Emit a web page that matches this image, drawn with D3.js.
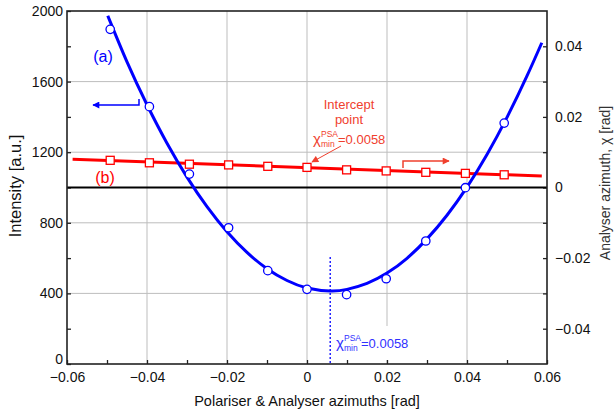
<!DOCTYPE html>
<html><head><meta charset="utf-8">
<script src="https://cdn.jsdelivr.net/npm/d3@7"></script>
<style>body{margin:0;background:#fff}svg{display:block}text{font-family:"Liberation Sans",Arial,sans-serif}</style>
</head><body>
<svg id="chart" width="614" height="414"></svg>
<script>
// ---- data ----
const angles = [-0.0492, -0.0394, -0.0294, -0.0196, -0.0098, 0.0, 0.0099, 0.0198, 0.0297, 0.0396, 0.0493];
const intensity = [1896, 1458, 1076, 772, 529, 423, 393, 483, 697, 999, 1365];
const chiValues = [0.0077, 0.0070, 0.0066, 0.0064, 0.0060, 0.0057, 0.0050, 0.0047, 0.0043, 0.0040, 0.0036];
const fitAngles = [-0.0498, -0.045, -0.04, -0.035, -0.03, -0.025, -0.02, -0.015, -0.01, -0.005, 0, 0.0058, 0.01, 0.015, 0.02, 0.025, 0.03, 0.035, 0.04, 0.045, 0.05, 0.055, 0.0587];
const fitIntensity = [1973, 1712, 1469, 1251, 1059, 891, 749, 632, 540, 473, 431, 414, 423, 457, 515, 599, 709, 843, 1002, 1187, 1397, 1632, 1820];
const chiFitAngles = [-0.0586, 0.0587];
const chiFit = [0.0080, 0.00325];
const chiMin = 0.0058;
const chiMinLabel = "=0.0058";
const xTicks = [-0.06, -0.04, -0.02, 0, 0.02, 0.04, 0.06];
const xTickLabels = ["\u22120.06", "\u22120.04", "\u22120.02", "0", "0.02", "0.04", "0.06"];
const xMinor = [-0.05, -0.03, -0.01, 0.01, 0.03, 0.05];
const yTicks = [0, 400, 800, 1200, 1600, 2000];
const yTickLabels = ["0", "400", "800", "1200", "1600", "2000"];
const yMinor = [200, 600, 1000, 1400, 1800];
const y2Ticks = [-0.04, -0.02, 0, 0.02, 0.04];
const y2TickLabels = ["\u22120.04", "\u22120.02", "0", "0.02", "0.04"];
const y2Minor = [-0.03, -0.01, 0.01, 0.03];

// ---- layout ----
const L = 67, R = 547, T = 11, B = 364;
const svg = d3.select("#chart");
const x = d3.scaleLinear().domain([-0.06, 0.06]).range([L, R]);
const y = d3.scaleLinear().domain([0, 2000]).range([B, T]);
const y2 = d3.scaleLinear().domain([-0.05, 0.05]).range([B, T]);
const BLUE = "#0000ff", RED = "#ff0000", ARED = "#f0402e", ABLUE = "#3030ff";

// grid
const grid = svg.append("g").attr("stroke", "#bdbdbd").attr("stroke-width", 1);
xTicks.slice(1, -1).forEach(v => grid.append("line").attr("x1", x(v)).attr("x2", x(v)).attr("y1", T).attr("y2", B));
yTicks.slice(1, -1).forEach(v => grid.append("line").attr("x1", L).attr("x2", R).attr("y1", y(v)).attr("y2", y(v)));

// axes
const fs = "14px";
const xAxis = svg.append("g").attr("transform", `translate(0,${B})`)
  .call(d3.axisBottom(x).tickValues(xTicks.concat(xMinor)).tickSize(-4).tickPadding(8)
    .tickFormat(d => { const i = xTicks.indexOf(d); return i >= 0 ? xTickLabels[i] : ""; }));
const yAxis = svg.append("g").attr("transform", `translate(${L},0)`)
  .call(d3.axisLeft(y).tickValues(yTicks.concat(yMinor)).tickSize(-4).tickPadding(4)
    .tickFormat(d => { const i = yTicks.indexOf(d); return i >= 0 ? yTickLabels[i] : ""; }));
const y2Axis = svg.append("g").attr("transform", `translate(${R},0)`)
  .call(d3.axisRight(y2).tickValues(y2Ticks.concat(y2Minor)).tickSize(-4).tickPadding(8)
    .tickFormat(d => { const i = y2Ticks.indexOf(d); return i >= 0 ? y2TickLabels[i] : ""; }));
[xAxis, yAxis, y2Axis].forEach(a => {
  a.select(".domain").remove();
  a.selectAll(".tick line").attr("stroke", "#222").attr("stroke-width", 1.3);
  a.selectAll("text").attr("fill", "#111").style("font-size", fs);
});
// nudge the left "0" label up a little so it clears the "−0.06" label below
yAxis.selectAll(".tick").filter(d => d === 0).select("text").attr("dy", "-0.05em");

// white box behind blue annotation
svg.append("rect").attr("x", 333).attr("y", 326).attr("width", 80).attr("height", 34).attr("fill", "#fff");

// zero line of chi
svg.append("line").attr("x1", L).attr("x2", R).attr("y1", y2(0)).attr("y2", y2(0)).attr("stroke", "#000").attr("stroke-width", 2);

// red series (b)
svg.append("path").datum(chiFitAngles.map((a, i) => [a, chiFit[i]]))
  .attr("d", d3.line().x(d => x(d[0])).y(d => y2(d[1])))
  .attr("fill", "none").attr("stroke", RED).attr("stroke-width", 3);
svg.append("g").selectAll("rect").data(angles.map((a, i) => [a, chiValues[i]])).join("rect")
  .attr("x", d => x(d[0]) - 4).attr("y", d => y2(d[1]) - 4).attr("width", 8).attr("height", 8)
  .attr("fill", "#fff").attr("stroke", RED).attr("stroke-width", 1.3);

// blue series (a)
svg.append("path").datum(fitAngles.map((a, i) => [a, fitIntensity[i]]))
  .attr("d", d3.line().curve(d3.curveNatural).x(d => x(d[0])).y(d => y(d[1])))
  .attr("fill", "none").attr("stroke", BLUE).attr("stroke-width", 3);
svg.append("g").selectAll("circle").data(angles.map((a, i) => [a, intensity[i]])).join("circle")
  .attr("cx", d => x(d[0])).attr("cy", d => y(d[1])).attr("r", 4.2)
  .attr("fill", "#fff").attr("stroke", BLUE).attr("stroke-width", 1.3);

// dashed chi min line
svg.append("line").attr("x1", x(chiMin)).attr("x2", x(chiMin)).attr("y1", y(606)).attr("y2", B)
  .attr("stroke", BLUE).attr("stroke-width", 1.3).attr("stroke-dasharray", "2,2");

// frame
svg.append("rect").attr("x", L).attr("y", T).attr("width", R - L).attr("height", B - T)
  .attr("fill", "none").attr("stroke", "#222").attr("stroke-width", 1.6);

// labels (a), (b)
svg.append("text").attr("x", 103).attr("y", 62).attr("text-anchor", "middle").attr("fill", BLUE).style("font-size", "16px").text("(a)");
svg.append("text").attr("x", 105).attr("y", 183).attr("text-anchor", "middle").attr("fill", RED).style("font-size", "16px").text("(b)");

// arrow markers
const defs = svg.append("defs");
function marker(id, col) {
  defs.append("marker").attr("id", id).attr("viewBox", "0 0 10 10").attr("refX", 9).attr("refY", 5)
    .attr("markerWidth", 9).attr("markerHeight", 7).attr("markerUnits", "userSpaceOnUse").attr("orient", "auto")
    .append("path").attr("d", "M0,0L10,5L0,10Z").attr("fill", col);
}
marker("ab", BLUE); marker("ar", ARED);
svg.append("path").attr("d", "M139,99V105H93").attr("fill", "none").attr("stroke", BLUE).attr("stroke-width", 1.5).attr("marker-end", "url(#ab)");
svg.append("path").attr("d", "M403,168V161H449").attr("fill", "none").attr("stroke", ARED).attr("stroke-width", 1.5).attr("marker-end", "url(#ar)");
svg.append("path").attr("d", "M341,146L312,162").attr("fill", "none").attr("stroke", ARED).attr("stroke-width", 1).attr("marker-end", "url(#ar)");

// intercept annotation
svg.append("text").attr("x", 349).attr("y", 109).attr("text-anchor", "middle").attr("fill", ARED).style("font-size", "13px").text("Intercept");
svg.append("text").attr("x", 349).attr("y", 124).attr("text-anchor", "middle").attr("fill", ARED).style("font-size", "13px").text("point");
function chiLabel(x0, yb, col) {
  const g = svg.append("g").attr("fill", col);
  g.append("text").attr("x", x0).attr("y", yb).style("font-size", "15px").text("\u03c7");
  g.append("text").attr("x", x0 + 8).attr("y", yb - 7).style("font-size", "8.5px").text("PSA");
  g.append("text").attr("x", x0 + 8).attr("y", yb + 3).style("font-size", "8.5px").text("min");
  g.append("text").attr("x", x0 + 25).attr("y", yb).style("font-size", "13px").text(chiMinLabel);
}
chiLabel(313, 144, ARED);
chiLabel(336, 348, ABLUE);

// axis titles
svg.append("text").attr("transform", "translate(21,186) rotate(-90)").attr("text-anchor", "middle").attr("fill", "#111").style("font-size", "16.5px").text("Intensity [a.u.]");
svg.append("text").attr("x", 307).attr("y", 406).attr("text-anchor", "middle").attr("fill", "#111").style("font-size", "14.5px").text("Polariser & Analyser azimuths [rad]");
svg.append("text").attr("transform", "translate(610,183) rotate(-90)").attr("text-anchor", "middle").attr("fill", "#333").style("font-size", "14px").text("Analyser azimuth, \u03c7 [rad]");
</script>
</body></html>
